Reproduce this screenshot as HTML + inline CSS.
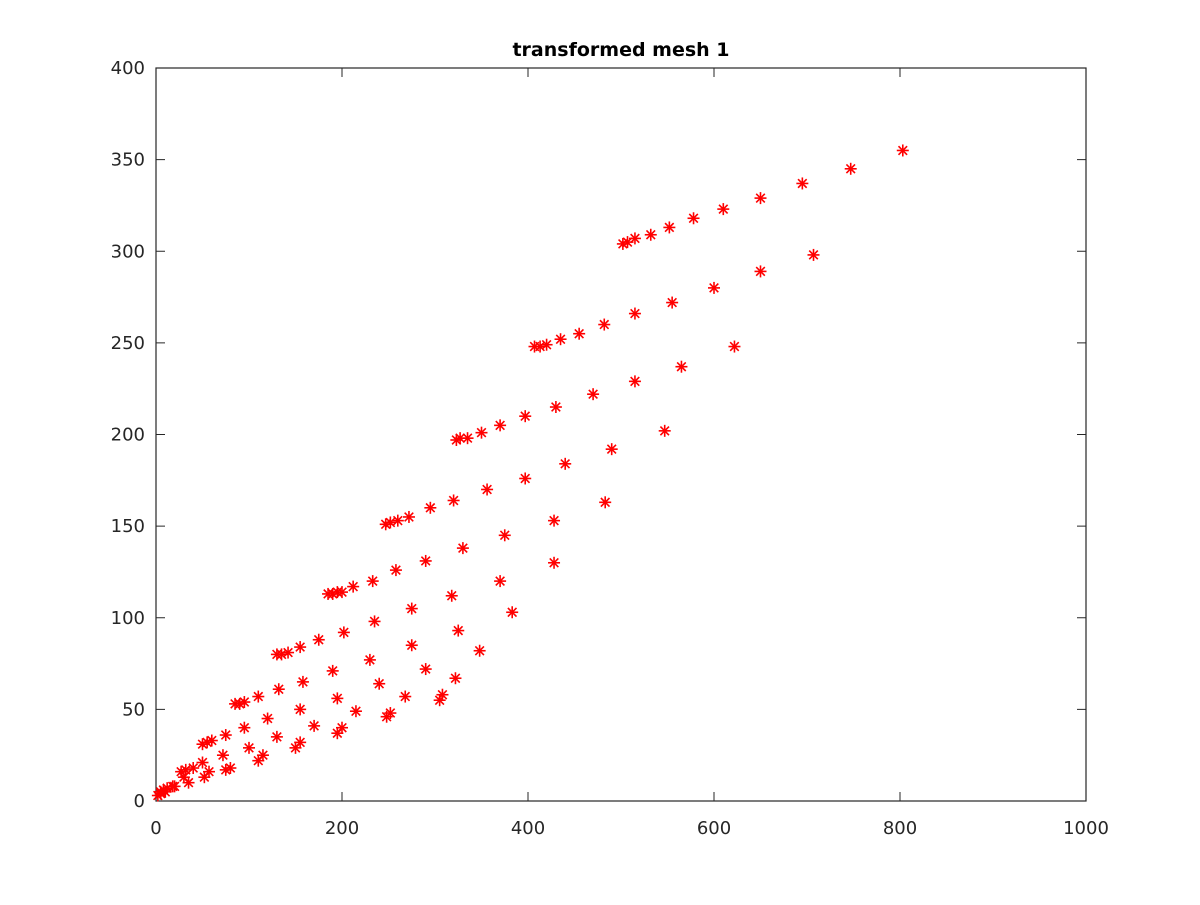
<!DOCTYPE html>
<html><head><meta charset="utf-8"><style>
body{margin:0;background:#fff}
text{font-family:"DejaVu Sans","Liberation Sans",sans-serif;fill:#262626}
</style></head><body>
<svg id="chart" width="1200" height="900">
<rect width="1200" height="900" fill="#fff"/>
<g id="axes"></g>
<g id="marks"></g>
<text x="621" y="56" text-anchor="middle" font-size="19" font-weight="bold" style="fill:#000">transformed mesh 1</text>
</svg>
<script>
const xTicks=[0,200,400,600,800,1000];
const yTicks=[0,50,100,150,200,250,300,350,400];
const xs=[2,5,8,12,18,27,32,40,50,55,60,75,85,90,95,110,130,135,142,155,175,185,190,195,200,212,233,247,252,260,272,295,323,327,335,350,370,397,407,413,420,435,455,482,502,507,515,532,552,578,610,650,695,747,803,
515,555,600,650,707,470,515,565,622,430,397,440,490,547,356,320,428,483,290,330,375,370,428,258,318,275,383,235,202,325,348,275,230,190,290,240,322,158,132,195,268,305,308,155,215,248,252,120,95,200,195,130,170,150,155,100,72,50,110,115,80,75,57,52,30,35,20,10,5];
const ys=[3,5,6,7,8,16,17,18,31,32,33,36,53,53,54,57,80,80,81,84,88,113,113,114,114,117,120,151,152,153,155,160,197,198,198,201,205,210,248,248,249,252,255,260,304,305,307,309,313,318,323,329,337,345,355,
266,272,280,289,298,222,229,237,248,215,176,184,192,202,170,164,153,163,131,138,145,120,130,126,112,105,103,98,92,93,82,85,77,71,72,64,67,65,61,56,57,55,58,50,49,46,48,45,40,40,37,35,41,29,32,29,25,21,22,25,18,17,16,13,13,10,8,5,4];
const L=156,R=1086,T=68,B=801;
const sx=v=>L+(v-0)/1000*(R-L);
const sy=v=>B-(v-0)/400*(B-T);
const NS='http://www.w3.org/2000/svg';
const ax=document.getElementById('axes'),mk=document.getElementById('marks');
function el(t,a,p){const e=document.createElementNS(NS,t);for(const k in a)e.setAttribute(k,a[k]);p.appendChild(e);return e;}
const box=el('rect',{x:L,y:T,width:R-L,height:B-T,fill:'none',stroke:'#262626','stroke-width':1.2},ax);


xTicks.forEach(v=>{const x=sx(v);
el('line',{x1:x,x2:x,y1:B,y2:B-9,stroke:'#262626'},ax);
el('line',{x1:x,x2:x,y1:T,y2:T+9,stroke:'#262626'},ax);
const t=el('text',{x:x,y:B+33,'text-anchor':'middle','font-size':18},ax);t.textContent=v;

});
yTicks.forEach(v=>{const y=sy(v);
el('line',{x1:L,x2:L+9,y1:y,y2:y,stroke:'#262626'},ax);
el('line',{x1:R,x2:R-9,y1:y,y2:y,stroke:'#262626'},ax);
const t=el('text',{x:L-11,y:y+6,'text-anchor':'end','font-size':18},ax);t.textContent=v;

});
xs.forEach((v,i)=>{const x=sx(v),y=sy(ys[i]),r=6,d=4.3;
const g=el('g',{stroke:'#ff0000','stroke-width':1.6},mk);


el('line',{x1:x-r,x2:x+r,y1:y,y2:y},g);
el('line',{x1:x,x2:x,y1:y-r,y2:y+r},g);
el('line',{x1:x-d,x2:x+d,y1:y-d,y2:y+d},g);
el('line',{x1:x-d,x2:x+d,y1:y+d,y2:y-d},g);});
</script>
</body></html>
